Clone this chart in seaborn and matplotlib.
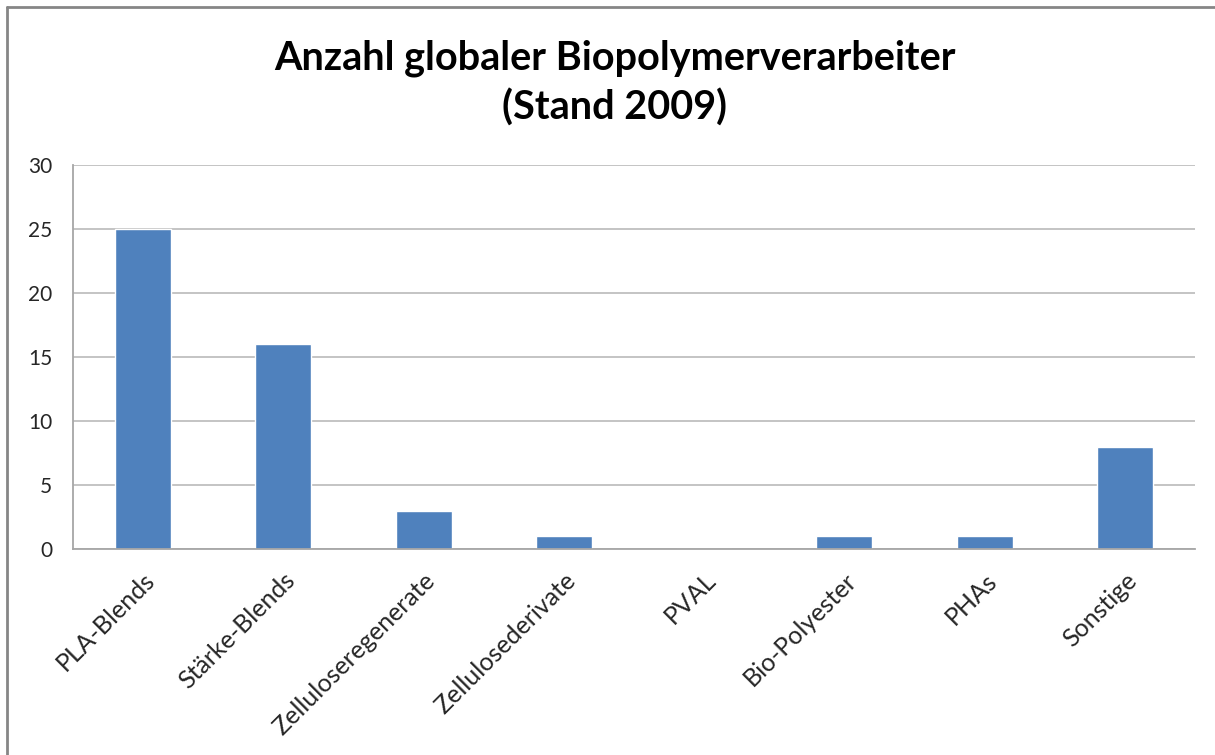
import matplotlib
matplotlib.use("Agg")
import matplotlib.pyplot as plt
import seaborn as sns
import pandas as pd
from matplotlib.lines import Line2D

# Daten
kategorien = ["PLA-Blends", "Stärke-Blends", "Zelluloseregenerate", "Zellulosederivate",
              "PVAL", "Bio-Polyester", "PHAs", "Sonstige"]
anzahl = [25, 16, 3, 1, 0, 1, 1, 8]
y_ticks = [0, 5, 10, 15, 20, 25, 30]
titel = "Anzahl globaler Biopolymerverarbeiter\n(Stand 2009)"

sns.set_style("white")
plt.rcParams["font.family"] = ["Lato", "DejaVu Sans"]

df = pd.DataFrame({"Kategorie": kategorien, "Anzahl": anzahl})

fig = plt.figure(figsize=(12.15, 7.55), dpi=100)
ax = fig.add_axes([73 / 1215, 1 - 549 / 755, (1195 - 73) / 1215, (549 - 165) / 755])

sns.barplot(data=df, x="Kategorie", y="Anzahl", color="#4F81BD", width=0.4,
            saturation=1, ax=ax)

ax.set_ylim(0, 30)
ax.set_xlim(-0.5, len(kategorien) - 0.5)
ax.set_yticks(y_ticks)
ax.yaxis.grid(True, color="#BFBFBF", linewidth=1.3)
ax.set_axisbelow(True)
ax.set_xlabel("")
ax.set_ylabel("")

for s in ["top", "right"]:
    ax.spines[s].set_visible(False)
for s in ["left", "bottom"]:
    ax.spines[s].set_color("#A6A6A6")
    ax.spines[s].set_linewidth(1.3)

# Teilstriche zwischen den Kategorien wie in Excel
ax.set_xticks([i - 0.5 for i in range(len(kategorien) + 1)], minor=True)
ax.tick_params(axis="x", which="minor", length=7, color="#A6A6A6", width=1.2, direction="out")
ax.tick_params(axis="x", which="major", length=0, pad=14)
ax.tick_params(axis="y", length=7, color="#A6A6A6", width=1.2, direction="out", pad=8)
ax.set_xticks(range(len(kategorien)))
ax.set_xticklabels(kategorien, rotation=45, ha="right", rotation_mode="anchor",
                   fontsize=18, color="#262626")
for lbl in ax.get_yticklabels():
    lbl.set_fontsize(15)
    lbl.set_color("#262626")

fig.text(0.506, 1 - 83 / 755, titel, ha="center", va="center", fontsize=28.5,
         fontweight="bold", color="black", linespacing=1.4)

# Rahmen oben und links
fig.add_artist(Line2D([7 / 1215, 1], [1 - 7 / 755, 1 - 7 / 755], transform=fig.transFigure,
                      color="#868686", linewidth=2))
fig.add_artist(Line2D([7 / 1215, 7 / 1215], [0, 1 - 7 / 755], transform=fig.transFigure,
                      color="#868686", linewidth=2))

fig.savefig("out.png", dpi=100)
